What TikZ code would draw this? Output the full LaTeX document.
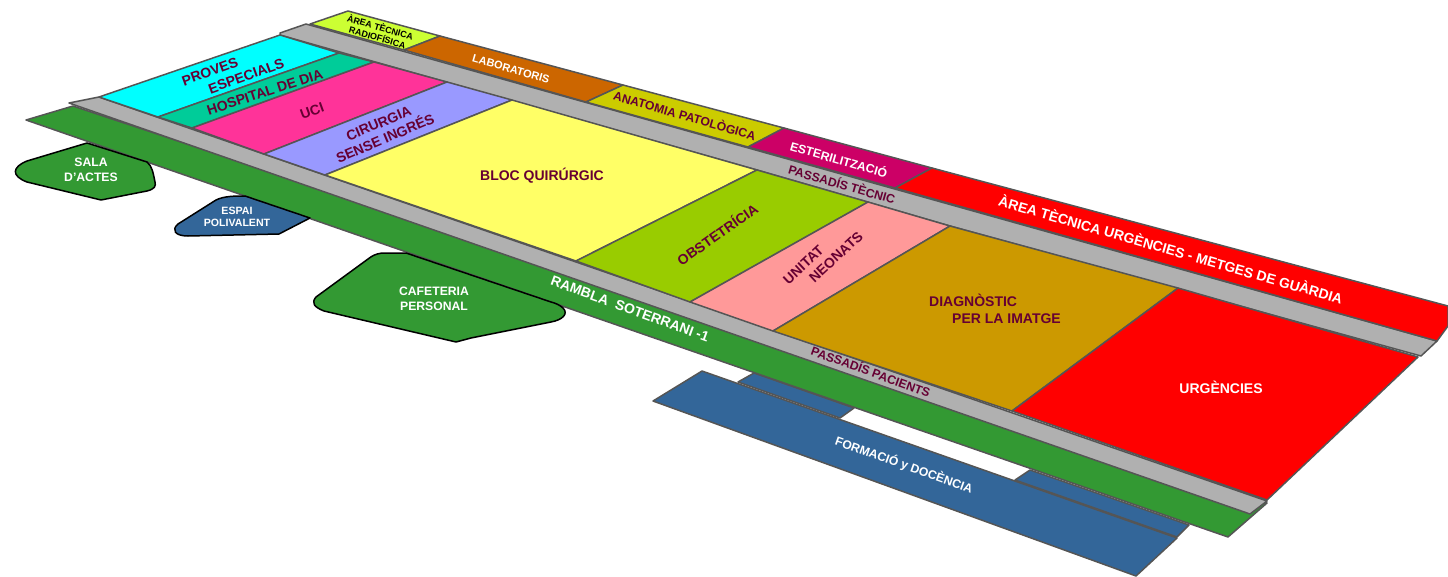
\documentclass[tikz,border=0pt]{standalone}
\usepackage{fontspec}
\setmainfont{Liberation Sans}
\definecolor{rambla}{HTML}{339933}
\definecolor{formacio}{HTML}{336699}
\definecolor{passadis}{HTML}{B0B0B0}
\definecolor{vora}{HTML}{555555}
\definecolor{granate}{HTML}{660033}
\definecolor{provescol}{HTML}{00FFFF}
\definecolor{hospcol}{HTML}{00CC99}
\definecolor{ucicol}{HTML}{FF3399}
\definecolor{cirucol}{HTML}{9999FF}
\definecolor{bloccol}{HTML}{FFFF66}
\definecolor{obstcol}{HTML}{99CC00}
\definecolor{neocol}{HTML}{FF9999}
\definecolor{diagcol}{HTML}{CC9900}
\definecolor{radiocol}{HTML}{CCFF33}
\definecolor{labocol}{HTML}{CC6600}
\definecolor{anatcol}{HTML}{CCCC00}
\definecolor{estecol}{HTML}{CC0066}
\begin{document}
\begin{tikzpicture}[x=1pt,y=-1pt,
        room/.style = {draw=vora, line width=1.5pt, line join=round},
        blob/.style = {draw=black, line width=1.5pt, line join=round},
        dark/.style = {text=granate, align=center, inner sep=0pt, font=\bfseries\fontsize{14}{16.5}\selectfont},
        light/.style = {text=white, align=center, inner sep=0pt, font=\bfseries\fontsize{14}{16.5}\selectfont},
        mid/.style = {font=\bfseries\fontsize{12.2}{15}\selectfont},
        small/.style = {font=\bfseries\fontsize{11}{14}\selectfont}
    ]
        \useasboundingbox (0,0) rectangle (1448,576);
        \draw[room, fill=formacio] (754,373) -- (738,382) -- (840,418) -- (854,408) -- cycle;
        \draw[room, fill=formacio] (1030,470) -- (1015,480) -- (1177,537) -- (1189,525) -- cycle;
        \draw[room, fill=formacio] (702,371) -- (653,401) -- (1136,576) -- (1177,538) -- cycle;
        \draw[room, fill=rambla] (26,120) -- (73,106) -- (1267,503) -- (1228,537) -- cycle;
        \draw[room, fill=passadis] (69,103) -- (99,97) -- (1267,501) -- (1250,514) -- cycle;
        \draw[room, fill=passadis] (280,33) -- (306,24) -- (1437,341) -- (1421,356) -- (950,226) -- (757,170) -- (280,35) -- cycle;
        \draw[room, fill=radiocol] (310,24) -- (348,11) -- (440,36) -- (404,50) -- cycle;
        \draw[room, fill=labocol] (404,50) -- (440,36) -- (623,85) -- (586,102) -- cycle;
        \draw[room, fill=anatcol] (586,102) -- (623,85) -- (784,128) -- (748,147) -- cycle;
        \draw[room, fill=estecol] (748,147) -- (784,128) -- (932,168) -- (895,188) -- cycle;
        \draw[room, fill=red] (895,188) -- (932,168) -- (1448,306) -- (1448,326) -- (1437,341) -- cycle;
        \draw[room, fill=provescol] (99,97) -- (280,35) -- (339,53) -- (158,117) -- cycle;
        \draw[room, fill=hospcol] (158,117) -- (339,53) -- (374,62) -- (192,128) -- cycle;
        \draw[room, fill=ucicol] (192,128) -- (374,62) -- (447,82) -- (264,154) -- cycle;
        \draw[room, fill=cirucol] (264,154) -- (447,82) -- (512,100) -- (325,175) -- cycle;
        \draw[room, fill=bloccol] (325,175) -- (512,100) -- (757,170) -- (576,261) -- cycle;
        \draw[room, fill=obstcol] (576,261) -- (757,170) -- (868,202) -- (690,302) -- cycle;
        \draw[room, fill=neocol] (690,302) -- (868,202) -- (950,226) -- (773,331) -- cycle;
        \draw[room, fill=diagcol] (773,331) -- (950,226) -- (1178,288) -- (1012,411) -- cycle;
        \draw[room, fill=red] (1012,411) -- (1178,288) -- (1418,357) -- (1267,500) -- cycle;
        \draw[blob, fill=rambla] (87,143) -- (27,161) .. controls (12,167) and (11,176) .. (27,182)
            -- (101,200) -- (147,191) .. controls (155,189) and (156,186) .. (155,182)
            .. controls (153,172) and (152,166) .. (147,162) -- cycle;
        \draw[blob, fill=formacio] (245,196) .. controls (235,196) and (224,196) .. (216,200)
            -- (178,224) .. controls (171,230) and (175,236) .. (188,236)
            -- (279,234) -- (310,218) -- cycle;
        \draw[blob, fill=rambla] (406,253) -- (382,253) .. controls (375,254) and (372,256) .. (368,259) -- (316,297)
            .. controls (311,303) and (314,307) .. (324,311)
            -- (456,342) -- (471,338) -- (551,322) .. controls (562,320) and (569,314) .. (563,308)
            .. controls (560,305) and (555,303) .. (551,302) -- cycle;

        \node[dark, rotate=-16, text=black, font=\bfseries\fontsize{9}{10.5}\selectfont] (radiofisica) at (379,32) {ÀREA TÈCNICA\\RADIOFÍSICA};
        \node[light, small, rotate=-16] (laboratoris) at (511,69) {LABORATORIS};
        \node[dark, mid, rotate=-16] (anatomia) at (685,115) {ANATOMIA PATOLÒGICA};
        \node[light, mid, rotate=-16] (esterilitzacio) at (839,159) {ESTERILITZACIÓ};
        \node[dark, mid, rotate=-16] (tecnic) at (842,184) {PASSADÍS TÈCNIC};
        \node[light, rotate=-16] (tecnicaurg) at (1171,249) {ÀREA TÈCNICA URGÈNCIES - METGES DE GUÀRDIA};
        \node[dark, rotate=20, align=left] (proves) at (233,72) {PROVES\\\hspace*{22pt}ESPECIALS};
        \node[dark, rotate=18] (hospital) at (265,92) {HOSPITAL DE DIA};
        \node[dark, rotate=20] (uci) at (312,111) {UCI};
        \node[dark, rotate=23] (cirurgia) at (382,131) {CIRURGIA\\SENSE INGRÉS};
        \node[dark] (bloc) at (542,176) {BLOC QUIRÚRGIC};
        \node[dark, rotate=35] (obstetricia) at (717,234) {OBSTETRÍCIA};
        \node[dark, rotate=43, align=left] (neonats) at (823,258) {UNITAT\\\hspace*{20pt}NEONATS};
        \node[dark, align=left] (diagnostic) at (995,309) {DIAGNÒSTIC\\\hspace*{23pt}PER LA IMATGE};
        \node[light] (urgencies) at (1221,387) {URGÈNCIES};
        \node[light, rotate=-20] (soterrani) at (630,309) {RAMBLA\ \ SOTERRANI -1};
        \node[dark, mid, rotate=-20] (pacients) at (871,371) {PASSADÍS PACIENTS};
        \node[light, mid, rotate=-19.5] (docencia) at (904,465) {FORMACIÓ y DOCÈNCIA};
        \node[light, mid] (sala) at (91,170) {SALA\\D’ACTES};
        \node[light, font=\bfseries\fontsize{10.6}{12.5}\selectfont] (espai) at (237,217) {ESPAI\\POLIVALENT};
        \node[light, mid] (cafeteria) at (434,299) {CAFETERIA\\PERSONAL};
    \end{tikzpicture}
\end{document}
